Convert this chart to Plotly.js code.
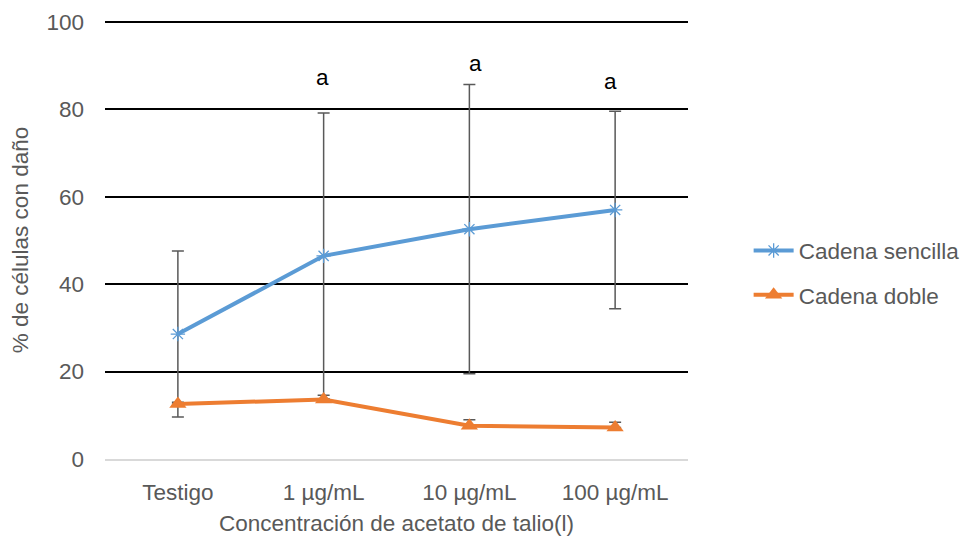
<!DOCTYPE html>
<html>
<head>
<meta charset="utf-8">
<script src="https://cdn.plot.ly/plotly-3.0.1.min.js"></script>
<style>html,body{margin:0;padding:0;background:#fff;}#chart{width:977px;height:538px;}</style>
</head>
<body>
<div id="chart"></div>
<script>
const categories = ["Testigo", "1 µg/mL", "10 µg/mL", "100 µg/mL"];
const sencillaValues = [28.6, 46.5, 52.6, 57.0];
const sencillaErrors = [19.0, 32.7, 33.1, 22.6];
const dobleValues = [12.6, 13.6, 7.6, 7.2];
const dobleErrors = [0.4, 1.0, 1.4, 1.2];
const letterLabels = ["", "a", "a", "a"];
const letterY = [0, 87.4, 90.6, 86.5];
const letterShift = [0, -1, 6, -5];

const FONT = "Liberation Sans, Arial, sans-serif";
const GRAY = "#595959";
const FS = 22.5;

const traces = [
  {
    x: categories, y: sencillaValues, type: "scatter", mode: "lines+markers",
    name: "Cadena sencilla", legendgroup: "g1",
    line: {color: "#5B9BD5", width: 4},
    marker: {symbol: "asterisk-open", size: 12, color: "#5B9BD5", line: {color: "#5B9BD5", width: 1.3}},
    error_y: {type: "data", array: sencillaErrors, visible: true, color: "#595959", thickness: 1.5, width: 6}
  },
  {
    x: categories, y: dobleValues, type: "scatter", mode: "lines+markers",
    name: "Cadena doble", legendgroup: "g2",
    line: {color: "#ED7D31", width: 4},
    marker: {symbol: "triangle-up", size: 15, color: "#ED7D31"},
    error_y: {type: "data", symmetric: false, array: dobleErrors, arrayminus: [0, 0, 0, 0], visible: true, color: "#595959", thickness: 1.5, width: 6}
  }
];

const annotations = [];
categories.forEach((c, i) => {
  if (letterLabels[i]) {
    annotations.push({x: c, y: letterY[i], xref: "x", yref: "y", text: letterLabels[i], xshift: letterShift[i],
      showarrow: false, font: {family: FONT, size: FS, color: "#000"}, yanchor: "middle"});
  }
});

const layout = {
  width: 977, height: 538,
  margin: {l: 105, r: 287, t: 21, b: 79},
  paper_bgcolor: "#fff", plot_bgcolor: "#fff",
  font: {family: FONT, size: FS, color: GRAY},
  showlegend: true,
  legend: {x: 1.104, y: 0.425, xanchor: "left", yanchor: "middle", traceorder: "grouped",
    font: {family: FONT, size: FS, color: GRAY}, tracegroupgap: 12, itemwidth: 40},
  xaxis: {
    type: "category", range: [-0.5, 3.5], showgrid: false, showline: true, linecolor: "#D9D9D9", linewidth: 1.5,
    ticks: "", tickfont: {family: FONT, size: FS, color: GRAY}, ticklabelstandoff: 12,
    title: {text: "Concentración de acetato de talio(l)", font: {family: FONT, size: FS, color: GRAY}, standoff: 11},
    zeroline: false
  },
  yaxis: {
    range: [0, 100.25], tickvals: [0, 20, 40, 60, 80, 100], showgrid: true, gridcolor: "#000", gridwidth: 2,
    zeroline: false, showline: false, ticks: "",
    tickfont: {family: FONT, size: FS, color: GRAY},
    ticklabelstandoff: 20,
    title: {text: "% de células con daño", font: {family: FONT, size: FS, color: GRAY}, standoff: 11}
  },
  annotations: annotations
};

Plotly.newPlot("chart", traces, layout, {displayModeBar: false, staticPlot: true});
</script>
</body>
</html>
